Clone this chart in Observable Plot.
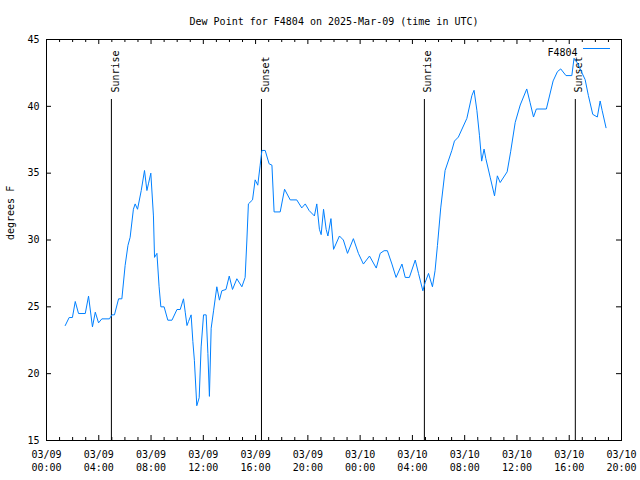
<!DOCTYPE html>
<html>
<head>
<meta charset="utf-8">
<script src="https://cdn.jsdelivr.net/npm/d3@7"></script>
<script src="https://cdn.jsdelivr.net/npm/@observablehq/plot@0.6"></script>
<style>
  html, body { margin: 0; padding: 0; background: #fff; }
  #chart svg { display: block; }
</style>
</head>
<body>
<div id="chart"></div>
<script>
const titleText = "Dew Point for F4804 on 2025-Mar-09 (time in UTC)";
const yLabelText = "degrees F";
const seriesName = "F4804";
const lineColor = "#0080ff";

const times = [
  "2025-03-09T01:26Z","2025-03-09T01:44Z","2025-03-09T01:59Z","2025-03-09T02:12Z","2025-03-09T02:27Z",
  "2025-03-09T02:58Z","2025-03-09T03:13Z","2025-03-09T03:31Z","2025-03-09T03:44Z","2025-03-09T03:59Z",
  "2025-03-09T04:14Z","2025-03-09T04:49Z","2025-03-09T05:00Z","2025-03-09T05:12Z","2025-03-09T05:31Z",
  "2025-03-09T05:46Z","2025-03-09T06:01Z","2025-03-09T06:14Z","2025-03-09T06:24Z","2025-03-09T06:39Z",
  "2025-03-09T06:47Z","2025-03-09T06:58Z","2025-03-09T07:15Z","2025-03-09T07:30Z","2025-03-09T07:41Z",
  "2025-03-09T07:48Z","2025-03-09T07:59Z","2025-03-09T08:11Z","2025-03-09T08:16Z","2025-03-09T08:27Z",
  "2025-03-09T08:37Z","2025-03-09T08:45Z","2025-03-09T09:00Z","2025-03-09T09:17Z","2025-03-09T09:36Z",
  "2025-03-09T09:59Z","2025-03-09T10:14Z","2025-03-09T10:29Z","2025-03-09T10:37Z","2025-03-09T10:45Z",
  "2025-03-09T10:52Z","2025-03-09T11:04Z","2025-03-09T11:12Z","2025-03-09T11:19Z","2025-03-09T11:30Z",
  "2025-03-09T11:41Z","2025-03-09T11:50Z","2025-03-09T12:01Z","2025-03-09T12:13Z","2025-03-09T12:21Z",
  "2025-03-09T12:28Z","2025-03-09T12:36Z","2025-03-09T12:47Z","2025-03-09T13:02Z","2025-03-09T13:14Z",
  "2025-03-09T13:25Z","2025-03-09T13:44Z","2025-03-09T13:59Z","2025-03-09T14:14Z","2025-03-09T14:34Z",
  "2025-03-09T14:57Z","2025-03-09T15:12Z","2025-03-09T15:20Z","2025-03-09T15:27Z","2025-03-09T15:46Z",
  "2025-03-09T15:58Z","2025-03-09T16:10Z","2025-03-09T16:21Z","2025-03-09T16:29Z","2025-03-09T16:44Z",
  "2025-03-09T17:02Z","2025-03-09T17:15Z","2025-03-09T17:25Z","2025-03-09T17:53Z","2025-03-09T18:13Z",
  "2025-03-09T18:39Z","2025-03-09T19:09Z","2025-03-09T19:32Z","2025-03-09T19:48Z","2025-03-09T20:06Z",
  "2025-03-09T20:30Z","2025-03-09T20:41Z","2025-03-09T20:53Z","2025-03-09T21:01Z","2025-03-09T21:12Z",
  "2025-03-09T21:24Z","2025-03-09T21:32Z","2025-03-09T21:46Z","2025-03-09T21:58Z","2025-03-09T22:25Z",
  "2025-03-09T22:43Z","2025-03-09T23:02Z","2025-03-09T23:29Z","2025-03-09T23:52Z","2025-03-10T00:15Z",
  "2025-03-10T00:43Z","2025-03-10T01:14Z","2025-03-10T01:32Z","2025-03-10T01:50Z","2025-03-10T02:05Z",
  "2025-03-10T02:26Z","2025-03-10T02:45Z","2025-03-10T03:12Z","2025-03-10T03:27Z","2025-03-10T03:46Z",
  "2025-03-10T04:13Z","2025-03-10T04:28Z","2025-03-10T04:48Z","2025-03-10T04:58Z","2025-03-10T05:14Z",
  "2025-03-10T05:32Z","2025-03-10T05:44Z","2025-03-10T05:55Z","2025-03-10T06:10Z","2025-03-10T06:30Z",
  "2025-03-10T07:01Z","2025-03-10T07:13Z","2025-03-10T07:31Z","2025-03-10T08:10Z","2025-03-10T08:33Z",
  "2025-03-10T08:43Z","2025-03-10T08:56Z","2025-03-10T09:08Z","2025-03-10T09:18Z","2025-03-10T09:29Z",
  "2025-03-10T09:37Z","2025-03-10T09:57Z","2025-03-10T10:17Z","2025-03-10T10:30Z","2025-03-10T10:43Z",
  "2025-03-10T11:15Z","2025-03-10T11:31Z","2025-03-10T11:52Z","2025-03-10T12:15Z","2025-03-10T12:45Z",
  "2025-03-10T13:00Z","2025-03-10T13:16Z","2025-03-10T13:29Z","2025-03-10T14:15Z","2025-03-10T14:46Z",
  "2025-03-10T15:06Z","2025-03-10T15:21Z","2025-03-10T15:45Z","2025-03-10T16:12Z","2025-03-10T16:22Z",
  "2025-03-10T16:35Z","2025-03-10T16:50Z","2025-03-10T17:13Z","2025-03-10T17:28Z","2025-03-10T17:48Z",
  "2025-03-10T18:09Z","2025-03-10T18:22Z","2025-03-10T18:31Z","2025-03-10T18:49Z"
];
const dewPoint = [
  23.6, 24.2, 24.2, 25.4, 24.5,
  24.5, 25.8, 23.5, 24.6, 23.8,
  24.1, 24.1, 24.4, 24.4, 25.6,
  25.6, 28.1, 29.6, 30.2, 32.3,
  32.7, 32.3, 33.7, 35.2, 33.7,
  34.2, 35.0, 31.8, 28.7, 29.0,
  26.5, 25.0, 25.0, 24.0, 24.0,
  24.8, 24.8, 25.6, 24.6, 23.6,
  23.9, 24.4, 22.4, 21.0, 17.6,
  18.2, 22.0, 24.4, 24.4, 21.5,
  18.3, 23.4, 24.7, 26.5, 25.5,
  26.2, 26.3, 27.3, 26.3, 27.1,
  26.5, 27.2, 30.0, 32.7, 33.0,
  34.5, 34.1, 35.6, 36.7, 36.7,
  35.7, 35.6, 32.1, 32.1, 33.8,
  33.0, 33.0, 32.4, 32.7, 32.2,
  31.8, 32.7, 30.8, 30.4, 32.3,
  30.8, 30.3, 31.6, 29.3, 30.3,
  30.0, 29.0, 30.1, 29.0, 28.2,
  28.8, 27.9, 29.0, 29.2, 29.2,
  28.2, 27.2, 28.2, 27.2, 27.2,
  28.5, 27.5, 26.2, 26.8, 27.5,
  26.5, 27.7, 29.6, 32.4, 35.2,
  36.7, 37.4, 37.7, 39.1, 40.8,
  41.2, 39.7, 37.8, 35.9, 36.8,
  36.1, 34.7, 33.3, 34.8, 34.3,
  35.1, 36.6, 38.8, 40.1, 41.3,
  40.3, 39.2, 39.8, 39.8, 41.9,
  42.6, 42.8, 42.3, 42.3, 43.6,
  43.3, 42.8, 42.0, 40.8, 39.4,
  39.2, 40.4, 39.7, 38.4
];

const eventTimes = ["2025-03-09T04:58Z", "2025-03-09T16:27Z", "2025-03-10T04:55Z", "2025-03-10T16:28Z"];
const eventLabels = ["Sunrise", "Sunset", "Sunrise", "Sunset"];

const xDomain = ["2025-03-09T00:00Z", "2025-03-10T20:00Z"];
const yTicks = [15, 20, 25, 30, 35, 40, 45];

const W = 640, H = 480;
const mL = 46, mR = 19, mT = 39, mB = 40;
const fw = W - mL - mR, fh = H - mT - mB;

const data = times.map((t, i) => ({time: new Date(t), value: dewPoint[i]}));
const events = eventTimes.map((t, i) => ({time: new Date(t), label: eventLabels[i]}));
const x0 = new Date(xDomain[0]), x1 = new Date(xDomain[1]);
const majorTicks = d3.utcHour.every(4).range(x0, new Date(+x1 + 1));
const minorTicks = d3.utcHour.every(1).range(x0, new Date(+x1 + 1)).filter(d => d.getUTCHours() % 4 !== 0);
const fmt = d3.utcFormat("%m/%d\n%H:%M");

const chart = Plot.plot({
  width: W, height: H,
  marginLeft: mL, marginRight: mR, marginTop: mT, marginBottom: mB,
  style: {fontFamily: "DejaVu Sans Mono", fontSize: "10px", background: "#fff", color: "#000"},
  x: {type: "utc", domain: [x0, x1], label: null},
  y: {domain: [yTicks[0], yTicks[yTicks.length - 1]], label: null},
  marks: [
    Plot.ruleX(events, {x: "time", stroke: "black", strokeWidth: 1, insetTop: 60}),
    Plot.text(events, {x: "time", text: "label", frameAnchor: "top", dy: 53, rotate: -90, textAnchor: "start", fill: "black"}),
    Plot.line(data, {x: "time", y: "value", stroke: lineColor, strokeWidth: 1}),
    Plot.frame({stroke: "black", strokeWidth: 1}),
    Plot.tickX(majorTicks, {x: d => d, stroke: "black", insetTop: fh - 5}),
    Plot.tickX(majorTicks, {x: d => d, stroke: "black", insetBottom: fh - 5}),
    Plot.tickX(minorTicks, {x: d => d, stroke: "black", insetTop: fh - 3}),
    Plot.tickX(minorTicks, {x: d => d, stroke: "black", insetBottom: fh - 3}),
    Plot.tickY(yTicks, {y: d => d, stroke: "black", insetRight: fw - 5}),
    Plot.tickY(yTicks, {y: d => d, stroke: "black", insetLeft: fw - 5}),
    Plot.axisX(majorTicks, {tickSize: 0, tickPadding: 8, tickFormat: fmt, label: null, lineHeight: 1.3}),
    Plot.axisY(yTicks, {tickSize: 0, tickPadding: 7, label: null}),
    Plot.text([titleText], {text: d => d, frameAnchor: "top", dy: -22, fill: "black"}),
    Plot.text([yLabelText], {text: d => d, frameAnchor: "left", dx: -36, rotate: -90, fill: "black"}),
    Plot.text([seriesName], {text: d => d, frameAnchor: "top-right", dx: -44, dy: 9, textAnchor: "end", fill: "black"}),
    Plot.ruleY([yTicks[yTicks.length - 1]], {stroke: lineColor, dy: 9, insetLeft: 583 - mL, insetRight: W - mR - 610})
  ]
});
document.getElementById("chart").appendChild(chart);
</script>
</body>
</html>
